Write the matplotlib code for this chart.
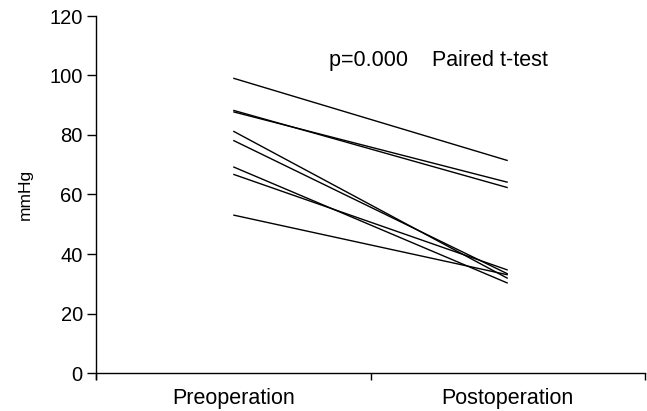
import matplotlib
matplotlib.use("Agg")
import matplotlib.pyplot as plt

categories = ["Preoperation", "Postoperation"]
pre = [99.1, 88.3, 87.8, 81.3, 78.2, 69.3, 66.8, 53.1]
post = [71.4, 62.3, 64.1, 31.8, 33.3, 30.2, 34.6, 33.0]
yticks = [0, 20, 40, 60, 80, 100, 120]
annotation = "p=0.000    Paired t-test"

plt.rcParams['font.family'] = ['Liberation Sans', 'DejaVu Sans']

fig = plt.figure(figsize=(6.47, 4.11), dpi=100)
ax = fig.add_axes([96/647, 1-373/411, 549/647, (373-16)/411])

xpos = [0.5, 1.5]
for a, b in zip(pre, post):
    ax.plot(xpos, [a, b], color='black', lw=1.0, solid_capstyle='butt')

ax.set_xlim(0, 2)
ax.set_ylim(0, 120)
ax.set_yticks(yticks)
ax.set_xticks([0, 1, 2])
ax.set_xticklabels([])
ax.set_xticks(xpos, minor=True)
ax.set_xticklabels(categories, minor=True)
ax.tick_params(axis='x', which='minor', length=0, pad=11, labelsize=15.5)
ax.tick_params(axis='x', which='major', direction='out', length=5, width=1)
ax.tick_params(axis='y', direction='out', length=6.5, width=1, labelsize=14.5, pad=3)
for s in ['top', 'right']:
    ax.spines[s].set_visible(False)
for s in ['left', 'bottom']:
    ax.spines[s].set_linewidth(1.0)
ax.spines['left'].set_bounds(-2, 120)
ax.set_ylabel("mmHg", fontsize=12.5, labelpad=12)
ax.text(0.85, 105, annotation, fontsize=15.5, va='center', ha='left')

fig.savefig("out.png", dpi=100)
